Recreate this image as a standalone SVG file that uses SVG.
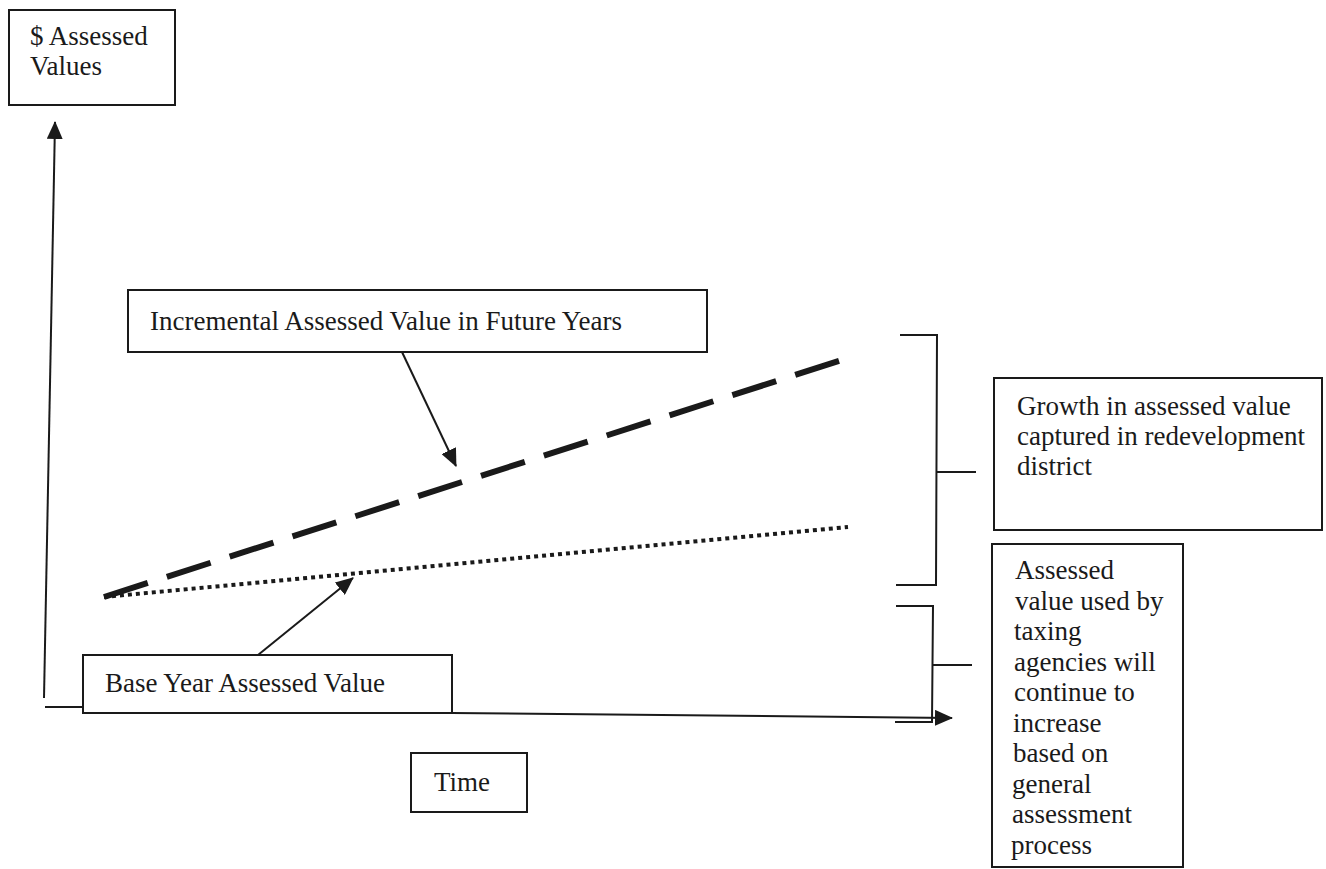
<svg xmlns="http://www.w3.org/2000/svg" width="1326" height="869" viewBox="0 0 1326 869">
<style>
  .box { fill: #fff; stroke: #1a1a1a; stroke-width: 2; }
  .t { font-family: "Liberation Serif", "Times New Roman", serif; font-size: 27px; fill: #1a1a1a; }
  .ln { stroke: #1a1a1a; stroke-width: 2; fill: none; }
</style>
<defs>
  <marker id="ahBig" markerWidth="18" markerHeight="16" refX="17" refY="8" orient="auto" markerUnits="userSpaceOnUse" viewBox="0 0 18 16">
    <path d="M0,0 L18,8 L0,16 z" fill="#1a1a1a"/>
  </marker>
</defs>

<g id="connectors">
  <!-- axes -->
  <line class="ln" x1="44" y1="698" x2="55" y2="122" marker-end="url(#ahBig)"/>
  <line class="ln" x1="45" y1="707" x2="83" y2="707"/>
  <line class="ln" x1="452" y1="713" x2="952" y2="718" marker-end="url(#ahBig)"/>
  <!-- growth lines -->
  <line x1="104" y1="597" x2="848" y2="358" stroke="#1a1a1a" stroke-width="6" stroke-dasharray="46 20"/>
  <line x1="104" y1="597" x2="848" y2="527" stroke="#1a1a1a" stroke-width="4" stroke-dasharray="4 4"/>
  <!-- label arrows -->
  <line class="ln" x1="402" y1="352" x2="456" y2="466" marker-end="url(#ahBig)"/>
  <line class="ln" x1="258" y1="655" x2="353" y2="578" marker-end="url(#ahBig)"/>
  <!-- upper bracket -->
  <polyline class="ln" points="900,335 937,335 936,585 896,585"/>
  <line class="ln" x1="937" y1="472" x2="976" y2="472"/>
  <!-- lower bracket -->
  <polyline class="ln" points="896,606 933,606 932,722 895,722"/>
  <line class="ln" x1="933" y1="665" x2="972" y2="665"/>
</g>

<g id="node-yaxis-label">
  <rect class="box" x="9" y="10" width="166" height="95"/>
  <text class="t" x="30" y="45">$ Assessed</text>
  <text class="t" x="30" y="75">Values</text>
</g>

<g id="node-incremental">
  <rect class="box" x="128" y="290" width="579" height="62"/>
  <text class="t" x="150" y="330">Incremental Assessed Value in Future Years</text>
</g>

<g id="node-base">
  <rect class="box" x="83" y="655" width="369" height="58"/>
  <text class="t" x="105" y="692">Base Year Assessed Value</text>
</g>

<g id="node-time">
  <rect class="box" x="411" y="753" width="116" height="59"/>
  <text class="t" x="434" y="791">Time</text>
</g>

<g id="node-growth">
  <rect class="box" x="994" y="378" width="328" height="152"/>
  <text class="t" x="1017" y="415">Growth in assessed value</text>
  <text class="t" x="1017" y="445">captured in redevelopment</text>
  <text class="t" x="1017" y="475">district</text>
</g>

<g id="node-assessed">
  <rect class="box" x="992" y="544" width="191" height="323"/>
  <text class="t" x="1015" y="579">Assessed</text>
  <text class="t" x="1015" y="610">value used by</text>
  <text class="t" x="1014" y="640">taxing</text>
  <text class="t" x="1014" y="671">agencies will</text>
  <text class="t" x="1014" y="701">continue to</text>
  <text class="t" x="1013" y="732">increase</text>
  <text class="t" x="1013" y="762">based on</text>
  <text class="t" x="1012" y="793">general</text>
  <text class="t" x="1012" y="823">assessment</text>
  <text class="t" x="1011" y="854">process</text>
</g>
</svg>
